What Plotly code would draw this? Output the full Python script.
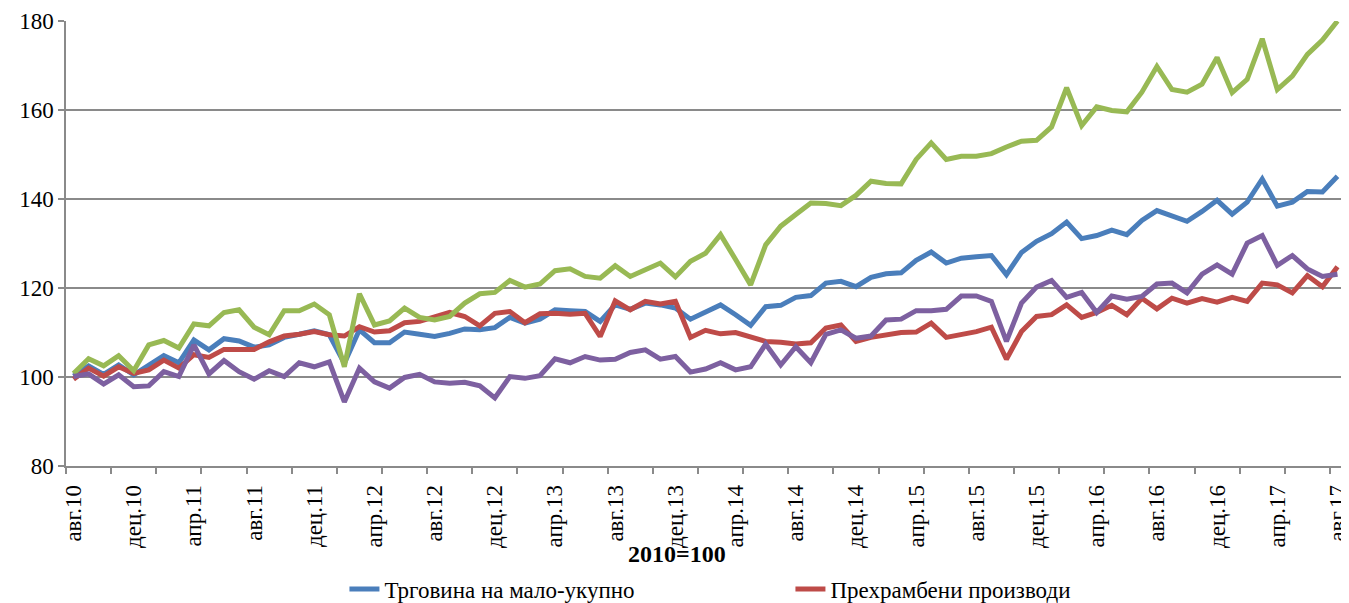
import plotly.graph_objects as go

months = ["јан", "феб", "мар", "апр", "мај", "јун", "јул", "авг", "сеп", "окт", "ное", "дец"]
categories = []
for k in range(85):
    m = (7 + k) % 12
    y = 10 + (7 + k) // 12
    categories.append(f"{months[m]}.{y}")

retail_total = [100.2, 102.5, 100.6, 102.7, 100.5, 102.5, 104.8, 103.2, 108.3, 106.1,
                108.6, 108.1, 106.7, 107.2, 108.9, 109.6, 110.4, 109.5, 103.1, 110.6,
                107.7, 107.7, 110.1, 109.6, 109.1, 109.8, 110.8, 110.6, 111.1, 113.4,
                112.1, 113.0, 115.1, 114.9, 114.7, 112.5, 116.2, 115.2, 116.6, 116.2,
                115.5, 113.0, 114.5, 116.2, 114.0, 111.6, 115.8, 116.1, 117.9, 118.3,
                121.1, 121.5, 120.3, 122.4, 123.2, 123.4, 126.2, 128.1, 125.6, 126.7,
                127.0, 127.3, 123.0, 128.0, 130.5, 132.2, 134.8, 131.1, 131.8, 133.0,
                132.0, 135.2, 137.4, 136.3, 135.0, 137.2, 139.7, 136.6, 139.3, 144.5,
                138.4, 139.3, 141.7, 141.6, 145.1]

food = [99.5, 102.0, 100.2, 102.3, 100.8, 101.6, 103.8, 102.0, 105.0, 104.4,
        106.2, 106.2, 106.2, 107.9, 109.2, 109.6, 110.2, 109.5, 109.2, 111.3,
        110.1, 110.4, 112.2, 112.5, 113.4, 114.5, 113.6, 111.5, 114.3, 114.7,
        112.2, 114.2, 114.3, 114.1, 114.3, 109.1, 117.1, 115.1, 117.0, 116.4,
        117.0, 108.9, 110.5, 109.7, 110.0, 108.9, 108.0, 107.8, 107.4, 107.7,
        111.0, 111.7, 108.0, 108.9, 109.5, 110.0, 110.1, 112.1, 108.9, 109.5,
        110.2, 111.2, 104.0, 110.2, 113.6, 114.0, 116.2, 113.4, 114.5, 116.1,
        114.0, 117.7, 115.3, 117.7, 116.6, 117.6, 116.8, 117.9, 117.0, 121.1,
        120.7, 118.9, 122.8, 120.3, 124.8]

non_food = [100.8, 104.1, 102.5, 104.8, 101.4, 107.2, 108.2, 106.5, 111.9, 111.5,
            114.5, 115.1, 111.2, 109.5, 114.9, 114.9, 116.4, 114.0, 102.3, 118.7,
            111.7, 112.6, 115.5, 113.4, 112.8, 113.6, 116.6, 118.7, 119.0, 121.7,
            120.2, 120.9, 123.9, 124.3, 122.6, 122.2, 125.0, 122.6, 124.1, 125.6,
            122.5, 126.0, 127.8, 132.0, 126.4, 120.7, 129.7, 133.9, 136.5, 139.1,
            139.0, 138.5, 140.8, 144.0, 143.5, 143.4, 148.9, 152.6, 148.9, 149.6,
            149.6, 150.2, 151.7, 153.0, 153.2, 156.2, 165.0, 156.5, 160.7, 159.9,
            159.6, 164.0, 169.8, 164.6, 164.0, 165.8, 171.8, 163.9, 166.9, 176.0,
            164.6, 167.6, 172.5, 175.7, 180.0]

fourth = [100.1, 100.7, 98.4, 100.5, 97.8, 98.0, 101.2, 100.1, 107.2, 100.7,
          103.7, 101.2, 99.5, 101.4, 100.1, 103.2, 102.3, 103.4, 94.4, 102.0,
          98.9, 97.5, 99.9, 100.6, 98.9, 98.6, 98.8, 98.0, 95.3, 100.1,
          99.7, 100.3, 104.1, 103.2, 104.6, 103.8, 104.0, 105.5, 106.1, 104.0,
          104.6, 101.1, 101.8, 103.2, 101.6, 102.3, 107.4, 102.7, 106.8, 103.2,
          109.6, 110.6, 108.7, 109.2, 112.8, 113.0, 114.9, 114.9, 115.2, 118.2,
          118.2, 117.0, 108.0, 116.6, 120.2, 121.7, 117.9, 119.0, 114.5, 118.2,
          117.5, 118.1, 120.9, 121.1, 118.9, 123.1, 125.2, 123.1, 130.1, 131.8,
          125.1, 127.3, 124.3, 122.6, 123.1]

series_names = ["Трговина на мало-укупно", "Прехрамбени производи",
                "Непрехрамбени производи", "Останато"]
series_colors = ["#4A7EBB", "#BE4B48", "#98B954", "#7D60A0"]
series_values = [retail_total, food, non_food, fourth]
series_legend = [True, True, False, False]

x_idx = list(range(len(categories)))
label_idx = x_idx[::4]
label_text = [categories[i] for i in label_idx]

FONT = "Liberation Serif"
GRID = "#8a8a8a"

fig = go.Figure()
for name, col, vals, leg in zip(series_names, series_colors, series_values, series_legend):
    fig.add_trace(go.Scatter(
        x=x_idx, y=vals, mode="lines", name=name,
        line=dict(color=col, width=5),
        showlegend=leg,
        customdata=categories,
        hovertemplate="%{customdata}: %{y}<extra>" + name + "</extra>",
    ))

fig.update_layout(
    width=1349, height=595,
    margin=dict(l=58, r=12, t=13, b=137, autoexpand=False),
    paper_bgcolor="white", plot_bgcolor="white",
    font=dict(family=FONT, color="black", size=22),
    xaxis=dict(
        range=[-0.5, 84.5], automargin=False,
        tickmode="array", tickvals=label_idx, ticktext=label_text,
        tickangle=-90, ticklabeloverflow="allow",
        ticks="outside", ticklen=8, tickcolor="rgba(0,0,0,0)",
        showgrid=False, zeroline=False,
        showline=True, linecolor=GRID, linewidth=1.5,
        tickfont=dict(family=FONT, size=23, color="black"),
        minor=dict(tickmode="linear", tick0=-0.5, dtick=3, ticks="outside",
                   ticklen=6, tickcolor=GRID, tickwidth=1.5, showgrid=False),
    ),
    yaxis=dict(
        range=[80, 180], dtick=20, tick0=80, automargin=False,
        showgrid=True, gridcolor=GRID, gridwidth=1.5,
        zeroline=False,
        showline=True, linecolor=GRID, linewidth=1.5,
        ticks="outside", ticklen=6, tickcolor=GRID, tickwidth=1.5,
        tickfont=dict(family=FONT, size=23, color="black"),
    ),
    legend=dict(
        orientation="h", x=0.2177, xanchor="left", y=-0.228, yanchor="top",
        entrywidth=401, entrywidthmode="pixels",
        font=dict(family=FONT, size=23, color="black"),
        bgcolor="rgba(0,0,0,0)",
    ),
    annotations=[dict(
        text="<b>2010=100</b>", x=0.4777, xref="paper", y=-0.198, yref="paper",
        xanchor="center", yanchor="middle", showarrow=False,
        font=dict(family=FONT, size=24, color="black"),
    )],
    showlegend=True,
)

fig.write_html("out.html")
